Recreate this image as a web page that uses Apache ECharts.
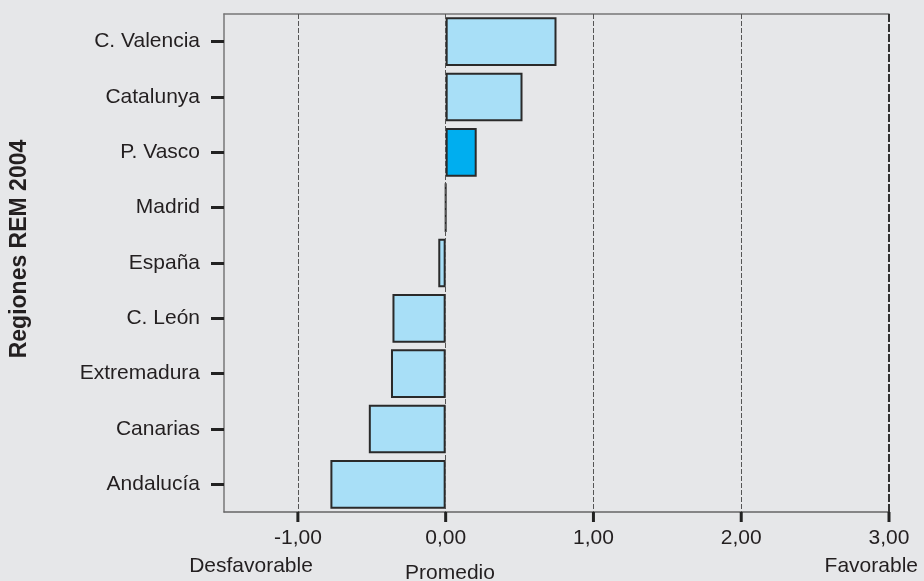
<!DOCTYPE html>
<html>
<head>
<meta charset="utf-8">
<script src="https://cdn.jsdelivr.net/npm/echarts@6/dist/echarts.min.js"></script>
<style>
html,body{margin:0;padding:0;background:#e6e7e9;}
#c{width:924px;height:581px;}
</style>
</head>
<body>
<div id="c"></div>
<script>
const categories = ["C. Valencia","Catalunya","P. Vasco","Madrid","España","C. León","Extremadura","Canarias","Andalucía"];
const values = [0.75, 0.52, 0.21, 0.0, -0.05, -0.36, -0.37, -0.52, -0.78];
const highlight = "P. Vasco";
const tickValues = [-1, 0, 1, 2, 3];
const gridLineValues = [-1, 0, 1, 2];
const yTitle = "Regiones REM 2004";
const extraLabels = ["Desfavorable", "Promedio", "Favorable"];

const FONT = "Liberation Sans";
const X_MIN = -1.5, X_MAX = 3;
const chart = echarts.init(document.getElementById('c'), null, {renderer:'canvas'});
const fmt = v => v.toFixed(2).replace('.', ',');

chart.setOption({
  backgroundColor: '#e6e7e9',
  animation: false,
  textStyle: {fontFamily: FONT},
  grid: {left: 224, right: 35, top: 14, bottom: 69},
  xAxis: [{
    type: 'value', min: X_MIN, max: X_MAX, position: 'bottom',
    axisLine: {show: true, onZero: false, lineStyle: {color: '#666', width: 1.5}},
    axisTick: {show: false},
    axisLabel: {show: true, customValues: tickValues, formatter: fmt, color: '#231f20', fontSize: 21, margin: 16},
    splitLine: {show: false}
  }, {
    type: 'value', min: X_MIN, max: X_MAX, position: 'top',
    axisLine: {show: true, onZero: false, lineStyle: {color: '#777', width: 1.5}},
    axisTick: {show: false}, axisLabel: {show: false}, splitLine: {show: false}
  }],
  yAxis: {
    type: 'category', data: categories, inverse: true,
    axisLine: {show: true, onZero: false, lineStyle: {color: '#777', width: 1.5}},
    axisTick: {show: true, alignWithLabel: true, length: 13, lineStyle: {color: '#222', width: 3}},
    axisLabel: {color: '#231f20', fontSize: 21, margin: 24}
  },
  series: [{
    type: 'bar',
    data: values.map((v, i) => ({
      value: v,
      itemStyle: {color: categories[i] === highlight ? '#00aeef' : '#a8dff7'}
    })),
    barCategoryGap: '12%',
    itemStyle: {borderColor: '#2a2a2a', borderWidth: 2},
    markLine: {
      silent: true, symbol: 'none', label: {show: false},
      data: gridLineValues.map(v => ({xAxis: v, lineStyle: {color: '#555', type: [5, 2], width: 1}}))
        .concat([{xAxis: X_MAX, lineStyle: {color: '#333', type: [8, 2], width: 2}}])
    }
  }, {
    // bottom axis tick marks, placed through the x scale
    type: 'custom', silent: true, clip: false, z: 5,
    data: tickValues.map(v => [v, 0]),
    encode: {x: 0, y: 1},
    renderItem: function (params, api) {
      const x = api.coord([api.value(0), 0])[0];
      const cs = params.coordSys;
      const y0 = cs.y + cs.height;
      return {type: 'line', shape: {x1: x, y1: y0, x2: x, y2: y0 + 10},
              style: {stroke: '#222', lineWidth: 3}};
    }
  }],
  graphic: [
    {type: 'text', x: 20, y: 249, rotation: Math.PI / 2,
     style: {text: yTitle, font: 'bold 23px "Liberation Sans"', fill: '#231f20', align: 'center', verticalAlign: 'middle'}},
    {type: 'text', x: 251, y: 566,
     style: {text: extraLabels[0], font: '21px "Liberation Sans"', fill: '#231f20', align: 'center', verticalAlign: 'middle'}},
    {type: 'text', x: 450, y: 573,
     style: {text: extraLabels[1], font: '21px "Liberation Sans"', fill: '#231f20', align: 'center', verticalAlign: 'middle'}},
    {type: 'text', x: 918, y: 566,
     style: {text: extraLabels[2], font: '21px "Liberation Sans"', fill: '#231f20', align: 'right', verticalAlign: 'middle'}}
  ]
});
</script>
</body>
</html>
